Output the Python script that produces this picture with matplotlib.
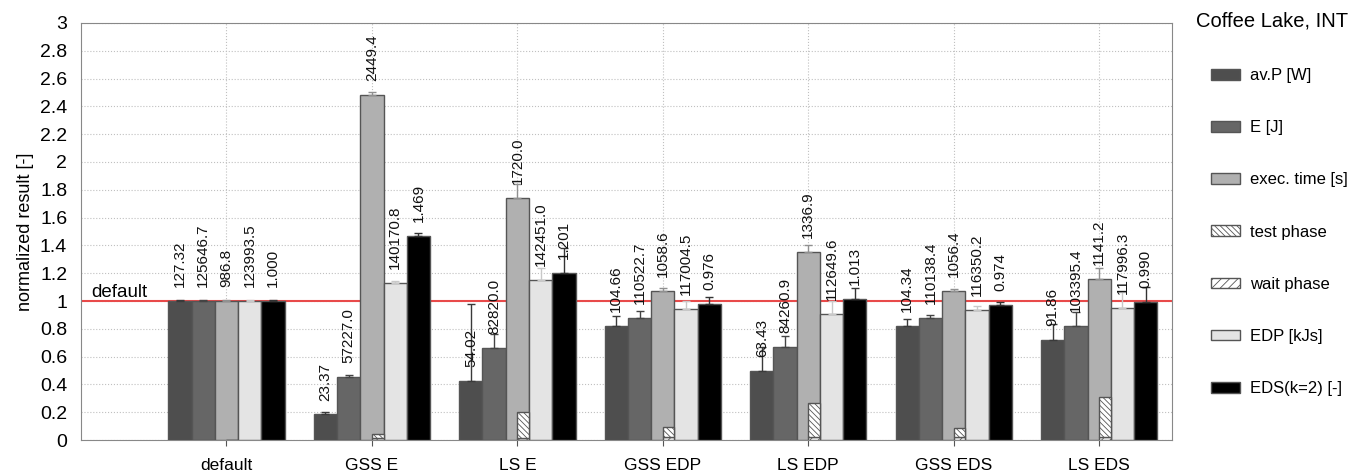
import numpy as np
import matplotlib.pyplot as plt
from matplotlib.patches import Patch

plt.rcParams['font.family'] = ['Liberation Sans', 'DejaVu Sans']
plt.rcParams['hatch.linewidth'] = 0.6

# Measured results (absolute values), normalized against the "default" run
groups = ["default", "GSS E", "LS E", "GSS EDP", "LS EDP", "GSS EDS", "LS EDS"]
av_p = [127.32, 23.37, 54.02, 104.66, 63.43, 104.34, 91.86]          # [W]
energy = [125646.7, 57227.0, 82820.0, 110522.7, 84260.9, 110138.4, 103395.4]  # [J]
exec_time = [986.8, 2449.4, 1720.0, 1058.6, 1336.9, 1056.4, 1141.2]  # [s]
edp = [123993.5, 140170.8, 142451.0, 117004.5, 112649.6, 116350.2, 117996.3]  # [kJs]
eds = [1.000, 1.469, 1.201, 0.976, 1.013, 0.974, 0.990]              # [-]

# upper error (normalized units)
av_p_err = [0.01, 0.02, 0.555, 0.07, 0.17, 0.05, 0.11]
energy_err = [0.01, 0.01, 0.10, 0.05, 0.08, 0.025, 0.10]
exec_err = [0.01, 0.02, 0.10, 0.02, 0.05, 0.015, 0.08]
edp_err = [0.01, 0.01, 0.09, 0.06, 0.09, 0.025, 0.11]
eds_err = [0.01, 0.02, 0.18, 0.05, 0.08, 0.02, 0.11]

# phases share of execution time (normalized), none for default
wait_phase = [0.0, 0.012, 0.015, 0.02, 0.02, 0.02, 0.02]
test_phase = [0.0, 0.03, 0.185, 0.075, 0.245, 0.07, 0.29]

series = [
    ("av.P [W]", av_p, av_p_err, "#4e4e4e", "#3a3a3a", "{:.2f}"),
    ("E [J]", energy, energy_err, "#666666", "#444444", "{:.1f}"),
    ("exec. time [s]", exec_time, exec_err, "#b0b0b0", "#909090", "{:.1f}"),
    ("EDP [kJs]", edp, edp_err, "#e4e4e4", "#c8c8c8", "{:.1f}"),
    ("EDS(k=2) [-]", eds, eds_err, "#000000", "#333333", "{:.3f}"),
]

fig = plt.figure(figsize=(13.64, 4.74), dpi=100)
ax = fig.add_axes([0.0594, 0.0717, 0.7998, 0.8798])

x = np.arange(len(groups))
w = 0.16
handles = []
for k, (name, vals, errs, color, ecol, fmt) in enumerate(series):
    vals = np.array(vals)
    norm = vals / vals[0]
    pos = x + (k - 2) * w
    ax.bar(pos, norm, w, color=color, edgecolor="#555555", linewidth=1.0, zorder=3)
    ax.errorbar(pos, norm, yerr=[np.zeros(len(norm)), errs], fmt="none",
                ecolor=ecol, elinewidth=1.0, capsize=3, capthick=1.0, zorder=4)
    for p, n, v in zip(pos, norm, vals):
        ax.text(p, n + 0.1, fmt.format(v), rotation=90, ha="center", va="bottom",
                fontsize=11, color="#111111", zorder=5)
    handles.append(Patch(facecolor=color, edgecolor="#555555", label=name))
    if k == 2:
        # phases drawn inside the exec. time bar
        hx = x + w / 4
        ax.bar(hx, wait_phase, w / 2, color="white", edgecolor="#555555",
               hatch="////", linewidth=1.0, zorder=4)
        ax.bar(hx, test_phase, w / 2, bottom=wait_phase, color="white",
               edgecolor="#555555", hatch="\\\\\\\\\\\\", linewidth=1.0, zorder=4)
        handles.append(Patch(facecolor="white", edgecolor="#555555",
                             hatch="\\\\\\\\\\\\", label="test phase"))
        handles.append(Patch(facecolor="white", edgecolor="#555555",
                             hatch="////", label="wait phase"))

ax.axhline(1.0, color="#e84a4a", linewidth=1.5, zorder=2)
ax.text(-0.93, 1.003, "default", fontsize=13.5, ha="left", va="bottom")

ax.set_xlim(-1.0, 6.5)
ax.set_ylim(0, 3)
ax.set_yticks(np.arange(0, 3.01, 0.2))
ax.set_yticklabels(["{:g}".format(round(t, 1)) for t in np.arange(0, 3.01, 0.2)])
ax.set_xticks(x)
ax.set_xticklabels(groups)
ax.tick_params(axis="y", labelsize=14, length=0, pad=10)
ax.tick_params(axis="x", labelsize=12.5, direction="inout", length=8, pad=9, color="#555555")
ax.grid(True, linestyle=":", color="#c0c0c0", linewidth=0.8, zorder=0)
ax.set_axisbelow(True)
for s in ax.spines.values():
    s.set_color("#888888")
ax.set_ylabel("normalized result [-]", fontsize=13, labelpad=4)

fig.text(0.877, 0.955, "Coffee Lake, INT", fontsize=14.5, ha="left", va="center")
fig.legend(handles=handles, loc="upper left", bbox_to_anchor=(0.877, 0.888),
           frameon=False, fontsize=12, handlelength=1.7, handleheight=0.6,
           labelspacing=2.23, handletextpad=0.6)

fig.savefig("out.png", dpi=100)
